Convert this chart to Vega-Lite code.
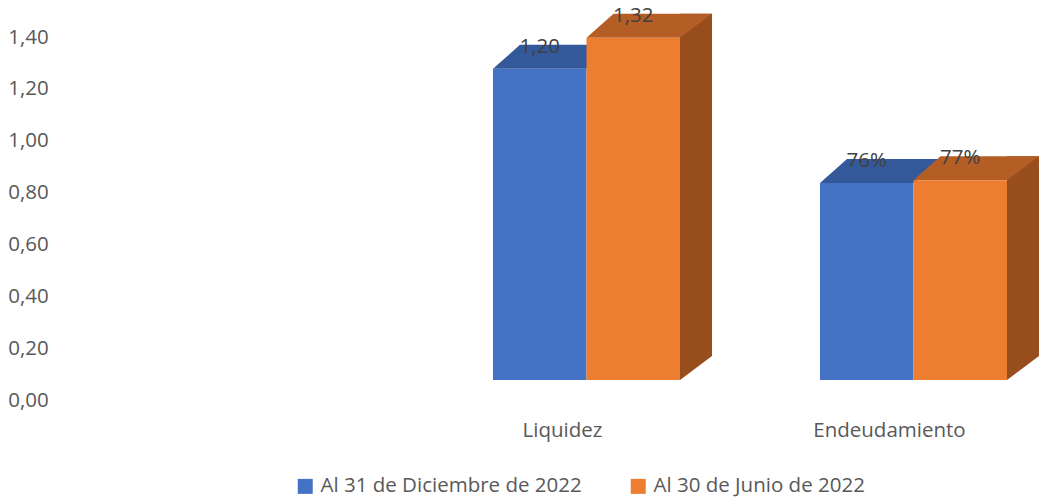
{
  "$schema": "https://vega.github.io/schema/vega-lite/v6.json",
  "width": 906.4,
  "height": 363,
  "autosize": {"type": "none"},
  "padding": {"left": 133.3, "top": 17, "right": 1.3, "bottom": 117},
  "config": {"view": {"stroke": null}, "font": "Open Sans"},
  "data": {
    "values": [
      {"cat": "Liquidez", "serie": "Al 31 de Diciembre de 2022", "valor": 1.20, "etiqueta": "1,20"},
      {"cat": "Liquidez", "serie": "Al 30 de Junio de 2022", "valor": 1.32, "etiqueta": "1,32"},
      {"cat": "Endeudamiento", "serie": "Al 31 de Diciembre de 2022", "valor": 0.76, "etiqueta": "76%"},
      {"cat": "Endeudamiento", "serie": "Al 30 de Junio de 2022", "valor": 0.77, "etiqueta": "77%"}
    ]
  },
  "encoding": {
    "x": {
      "field": "cat", "type": "nominal", "title": null,
      "scale": {"domain": [" ", "Liquidez", "Endeudamiento"], "paddingInner": 0.428, "paddingOuter": 0.1},
      "axis": {"labelOffset": -24, "labelPadding": 40, "ticks": false, "tickSize": 0, "domain": false, "labelFontSize": 20.5, "labelColor": "#595959", "labelAngle": 0}
    },
    "y": {
      "field": "valor", "type": "quantitative", "title": null,
      "scale": {"domain": [0, 1.4], "nice": false},
      "axis": {"values": [0, 0.2, 0.4, 0.6, 0.8, 1, 1.2, 1.4], "labelExpr": "replace(format(datum.value, '.2f'), '.', ',')", "labelOffset": 20, "labelPadding": 85, "ticks": false, "tickSize": 0, "domain": false, "grid": false, "labelFontSize": 20.5, "labelColor": "#595959"}
    }
  },
  "layer": [
    {
      "transform": [{"filter": "datum.serie === 'Al 31 de Diciembre de 2022'"}],
      "mark": {"type": "point", "shape": "M-0.4675,0L0.4675,0L0.7875,-0.24L-0.1975,-0.24Z", "size": 40000, "filled": true, "color": "#34599A", "opacity": 1, "strokeWidth": 0},
      "encoding": {"xOffset": {"field": "serie", "type": "nominal", "scale": {"domain": ["Al 31 de Diciembre de 2022", "Al 30 de Junio de 2022"], "paddingInner": 0, "paddingOuter": 0}}}
    },
    {
      "transform": [{"filter": "datum.serie === 'Al 30 de Junio de 2022'"}],
      "mark": {"type": "bar", "color": "#984D1D", "width": 32, "xOffset": 109.5, "yOffset": -24},
      "encoding": {"y2": {"datum": 0}}
    },
    {
      "transform": [{"filter": "datum.serie === 'Al 30 de Junio de 2022'"}],
      "mark": {"type": "point", "shape": "M0.4575,0.02L0.4675,0L0.7875,-0.24L0.83,-0.24L0.83,0.02Z", "size": 40000, "filled": true, "color": "white", "opacity": 1, "strokeWidth": 0},
      "encoding": {"y": {"datum": 0}, "xOffset": {"field": "serie", "type": "nominal", "scale": {"domain": ["Al 31 de Diciembre de 2022", "Al 30 de Junio de 2022"], "paddingInner": 0, "paddingOuter": 0}}}
    },
    {
      "transform": [{"filter": "datum.serie === 'Al 30 de Junio de 2022'"}],
      "mark": {"type": "point", "shape": "M-0.4675,0L0.4675,0L0.7875,-0.24L-0.1975,-0.24Z", "size": 40000, "filled": true, "color": "#B45E26", "opacity": 1, "strokeWidth": 0},
      "encoding": {"xOffset": {"field": "serie", "type": "nominal", "scale": {"domain": ["Al 31 de Diciembre de 2022", "Al 30 de Junio de 2022"], "paddingInner": 0, "paddingOuter": 0}}}
    },
    {
      "mark": {"type": "bar"},
      "encoding": {
        "xOffset": {"field": "serie", "type": "nominal", "scale": {"domain": ["Al 31 de Diciembre de 2022", "Al 30 de Junio de 2022"], "paddingInner": 0, "paddingOuter": 0}},
        "color": {
          "field": "serie", "type": "nominal",
          "scale": {"domain": ["Al 31 de Diciembre de 2022", "Al 30 de Junio de 2022"], "range": ["#4472C4", "#ED7D31"]},
          "legend": {"title": null, "orient": "none", "legendX": 161.7, "legendY": 459, "direction": "horizontal", "symbolType": "square", "symbolSize": 225, "labelFontSize": 20.5, "labelColor": "#595959", "labelLimit": 0, "columnPadding": 46, "labelOffset": 5, "padding": 0, "symbolStrokeWidth": 0}
        }
      }
    },
    {
      "mark": {"type": "text", "dy": -22, "fontSize": 20.5, "color": "#404040"},
      "encoding": {
        "xOffset": {"field": "serie", "type": "nominal", "scale": {"domain": ["Al 31 de Diciembre de 2022", "Al 30 de Junio de 2022"], "paddingInner": 0, "paddingOuter": 0}},
        "text": {"field": "etiqueta"}
      }
    }
  ]
}
